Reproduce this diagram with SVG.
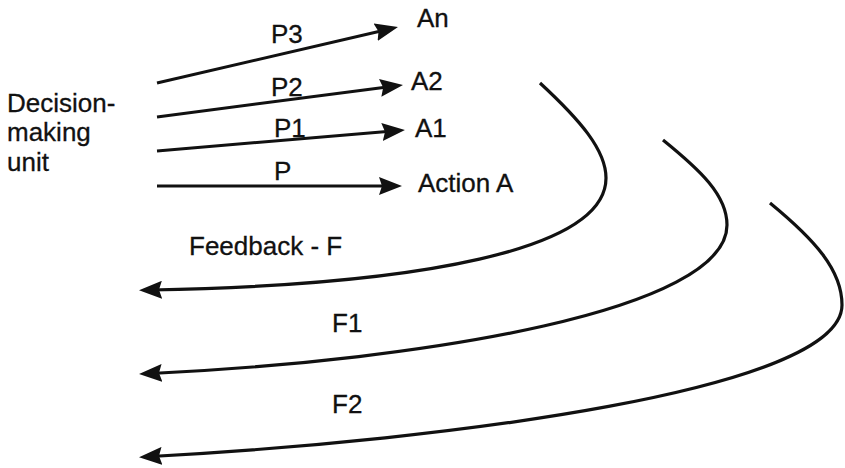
<svg xmlns="http://www.w3.org/2000/svg" width="845" height="468" viewBox="0 0 845 468">
<style>
text{font-family:"Liberation Sans",Arial,Helvetica,sans-serif;font-size:26px;fill:#111;stroke:#111;stroke-width:0.3}
.c{fill:none;stroke:#111;stroke-width:3;marker-end:url(#ah)}
.f{fill:none;stroke:#111;stroke-width:3.2;marker-end:url(#ah)}
</style>
<defs>
<marker id="ah" markerUnits="userSpaceOnUse" viewBox="0 0 23 18" refX="11" refY="9" markerWidth="23" markerHeight="18" orient="auto">
<path d="M0,0 L23,9 L0,18 L3,9 z" fill="#111"/>
</marker>
</defs>
<rect width="845" height="468" fill="#fff"/>
<g id="decision-unit">
<text x="7" y="112">Decision-</text>
<text x="7" y="141">making</text>
<text x="7" y="171">unit</text>
</g>
<g id="action-An"><text x="417" y="27">An</text></g>
<g id="action-A2"><text x="411" y="90">A2</text></g>
<g id="action-A1"><text x="415" y="137">A1</text></g>
<g id="action-A"><text x="418" y="192">Action A</text></g>
<g id="connectors">
<path class="c" d="M157,83 L386.3,29.7"/>
<path class="c" d="M157,117 L391.1,86.5"/>
<path class="c" d="M157,151 L393,131"/>
<path class="c" d="M157,186 L390,186"/>
<path class="f" d="M540,83 C580,120 606,150 606,178 C606,250 420,285 151,290"/>
<path class="f" d="M663,140 C700,170 727,195 727,225 C727,310 430,360 151,373.5"/>
<path class="f" d="M770,203 C815,240 842,270 842,305 C842,390 450,440 151,456.5"/>
</g>
<g id="labels">
<text x="271" y="43">P3</text>
<text x="271" y="96">P2</text>
<text x="274" y="137">P1</text>
<text x="274" y="180">P</text>
<text x="189" y="255">Feedback - F</text>
<text x="332" y="332">F1</text>
<text x="332" y="413">F2</text>
</g>
</svg>
